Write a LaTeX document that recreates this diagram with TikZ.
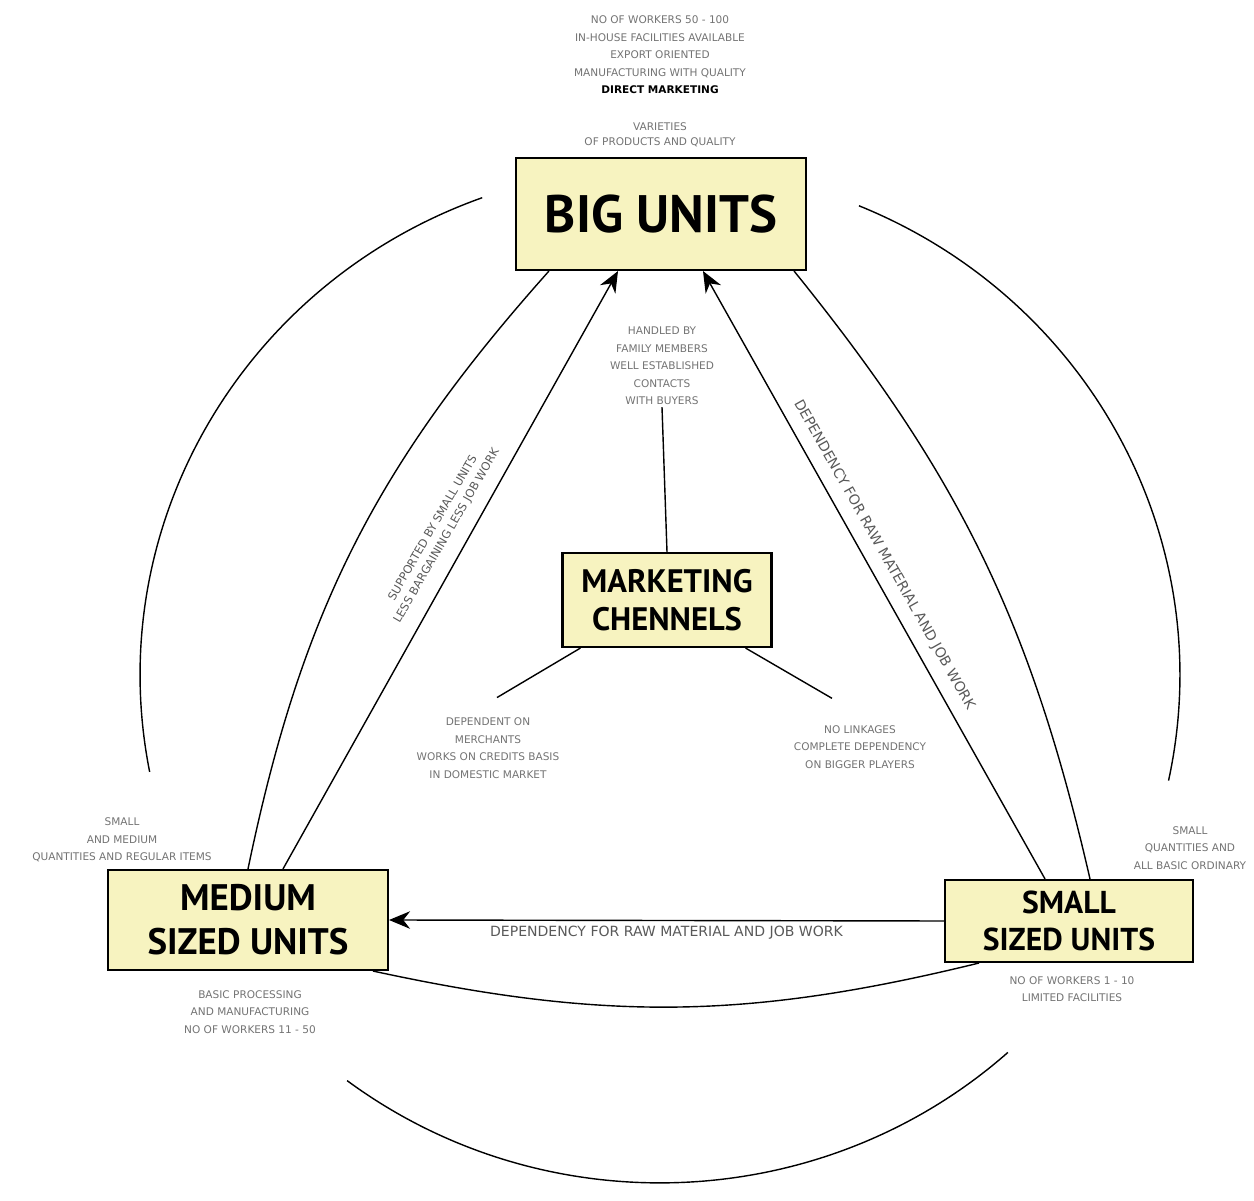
\documentclass[tikz,border=0pt]{standalone}
\usepackage{fontspec}
\setmainfont{PT Sans}
\newfontfamily\notefont{DejaVu Sans}
\usetikzlibrary{arrows.meta}
\definecolor{unitfill}{RGB}{247,243,192}
\tikzset{
  unit/.style={draw, very thick, fill=unitfill, align=center, inner sep=2pt},
  note/.style={align=center, text=black!55, inner sep=1pt, font=\notefont\fontsize{6}{10}\selectfont},
  tag/.style={align=center, text=black!65, inner sep=1pt, font=\notefont\fontsize{8}{11}\selectfont},
  link/.style={thick},
}

\begin{document}
\begin{tikzpicture}[x=0.02cm, y=0.02cm, >={Stealth[length=12pt,width=10pt]}]
\useasboundingbox (0,0) rectangle (1254,1200);

% units
\node (big) [unit, minimum width=5.8cm, minimum height=2.24cm, font=\bfseries\fontsize{30}{32}\selectfont] at (661,986) {BIG UNITS};
\node (medium) [unit, minimum width=5.6cm, minimum height=2cm, font=\bfseries\fontsize{21}{25}\selectfont] at (248,280) {MEDIUM\\SIZED UNITS};
\node (small) [unit, minimum width=4.96cm, minimum height=1.64cm, font=\bfseries\fontsize{18}{21}\selectfont] at (1069,279) {SMALL\\SIZED UNITS};
\node (market) [unit, minimum width=4.18cm, minimum height=1.88cm, font=\bfseries\fontsize{18.5}{21.5}\selectfont] at (667,600) {MARKETING\\CHENNELS};

% notes
\node (topnote) [note] at (660,1145) {NO OF WORKERS 50 - 100\\IN-HOUSE FACILITIES AVAILABLE\\EXPORT ORIENTED\\MANUFACTURING WITH QUALITY\\\textcolor{black}{\bfseries DIRECT MARKETING}};
\node (varnote) [note, font=\notefont\fontsize{6}{8.5}\selectfont] at (660,1065) {VARIETIES\\OF PRODUCTS AND QUALITY};
\node (handled) [note] at (662,834) {HANDLED BY\\FAMILY MEMBERS\\WELL ESTABLISHED\\CONTACTS\\WITH BUYERS};
\node (depnote) [note] at (488,452) {DEPENDENT ON\\MERCHANTS\\WORKS ON CREDITS BASIS\\IN DOMESTIC MARKET};
\node (nolink) [note] at (860,453) {NO LINKAGES\\COMPLETE DEPENDENCY\\ON BIGGER PLAYERS};
\node (leftnote) [note] at (122,360) {SMALL\\AND MEDIUM\\QUANTITIES AND REGULAR ITEMS};
\node (rightnote) [note] at (1190,352) {SMALL\\QUANTITIES AND\\ALL BASIC ORDINARY};
\node (mednote) [note] at (250,188) {BASIC PROCESSING\\AND MANUFACTURING\\NO OF WORKERS 11 - 50};
\node (smallnote) [note] at (1072,211) {NO OF WORKERS 1 - 10\\LIMITED FACILITIES};
\node (support) [tag, font=\notefont\fontsize{6.5}{9}\selectfont, rotate=60] at (440,668) {SUPPORTED BY SMALL UNITS\\LESS BARGAINING LESS JOB WORK};
\node (rawright) [tag, rotate=-60.5] at (884,645) {DEPENDENCY FOR RAW MATERIAL AND JOB WORK};

% connectors
\draw[link] (market.north) -- (handled.south);
\draw[link] ([xshift=0.38cm]market.south west) -- ([xshift=0.18cm,yshift=0.36cm]depnote.north);
\draw[link] ([xshift=-0.54cm]market.south east) -- ([xshift=-0.56cm,yshift=0.5cm]nolink.north);
\draw[link] (medium.north) to[bend left=15] ([xshift=0.68cm]big.south west);
\draw[link, ->] ([xshift=0.7cm]medium.north) -- ([xshift=-0.86cm]big.south);
\draw[link, ->] ([xshift=-0.48cm]small.north) -- ([xshift=0.84cm]big.south);
\draw[link] ([xshift=0.42cm]small.north) to[bend right=13] ([xshift=-0.26cm]big.south east);
\draw[link, ->] (small.west) -- node[tag, below=2pt] {DEPENDENCY FOR RAW MATERIAL AND JOB WORK} (medium.east);
\draw[link] ([xshift=-0.32cm]medium.south east) to[bend right=13] ([xshift=0.7cm]small.south west);

% outer ring
\coordinate (hub) at (660,525);
\draw[link] (hub) ++(110:10.4cm and 10.16cm) arc[start angle=110, end angle=191, x radius=10.4cm, y radius=10.16cm];
\draw[link] (hub) ++(67.5:10.4cm and 10.16cm) arc[start angle=67.5, end angle=-12, x radius=10.4cm, y radius=10.16cm];
\draw[link] (hub) ++(233:10.4cm and 10.16cm) arc[start angle=233, end angle=312, x radius=10.4cm, y radius=10.16cm];
\end{tikzpicture}
\end{document}
